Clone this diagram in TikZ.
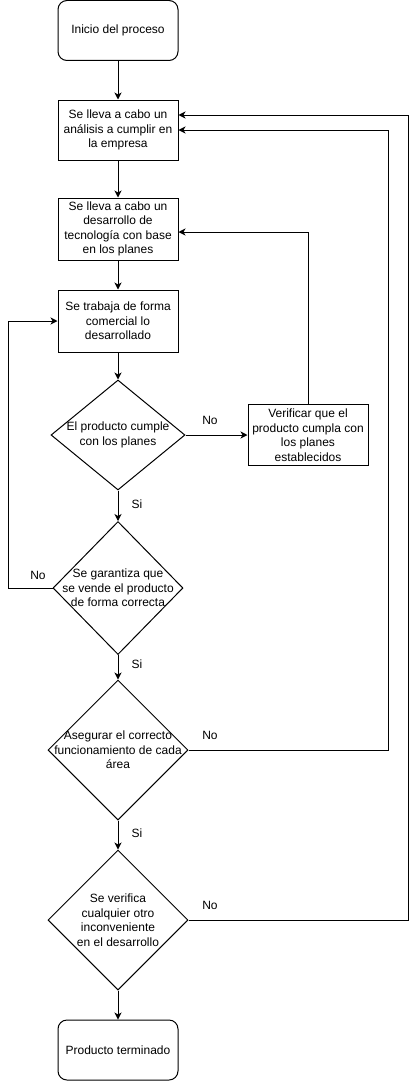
\documentclass[tikz,border=0pt]{standalone}
\usepackage{fontspec}
\setmainfont{Liberation Sans}
\usetikzlibrary{shapes.geometric,arrows.meta,calc}
\begin{document}
\begin{tikzpicture}[x=1pt,y=-1pt,
  font=\fontsize{12}{14.5}\selectfont,
  proc/.style={draw, line width=1pt, minimum width=120pt, minimum height=60pt, align=center, inner sep=0pt},
  term/.style={proc, rounded corners=9pt},
  dec/.style={draw, diamond, line width=1pt, inner sep=0pt},
  arr/.style={line width=1pt, -{Stealth[length=7pt,width=7pt,inset=2pt]}},
  lbl/.style={inner sep=0pt}]
\useasboundingbox (0,0) rectangle (416,1081);

\node[term] (start) at (118,30.5) {Inicio del proceso};
\node[proc] (b1) at (118,130) {Se lleva a cabo un\\análisis a cumplir en\\la empresa};
\node[proc, minimum height=62pt] (b2) at (118,229) {Se lleva a cabo un\\desarrollo de\\tecnología con base\\en los planes};
\node[proc, minimum height=62pt] (b3) at (118,321) {Se trabaja de forma\\comercial lo\\desarrollado};
\node[dec, minimum width=134pt, minimum height=110pt,
  label={[align=center]center:El producto cumple\\con los planes}] (d1) at (118,435) {};
\node[proc, minimum height=61pt] (v) at (308,435) {Verificar que el\\producto cumpla con\\los planes\\establecidos};
\node[dec, minimum width=130pt, minimum height=133pt,
  label={[align=center]center:Se garantiza que\\se vende el producto\\de forma correcta}] (d2) at (118,588) {};
\node[dec, minimum width=140pt, minimum height=140pt,
  label={[align=center]center:Asegurar el correcto\\funcionamiento de cada\\área}] (d3) at (118,750) {};
\node[dec, minimum width=140pt, minimum height=140pt,
  label={[align=center]center:Se verifica\\cualquier otro\\inconveniente\\en el desarrollo}] (d4) at (118,920) {};
\node[term] (end) at (118,1050) {Producto terminado};

\coordinate (c1) at ($(b1.east)+(0,-15)$);
\coordinate (c2) at ($(b2.east)+(0,3)$);

\draw[arr] (start) -- (b1);
\draw[arr] (b1) -- (b2);
\draw[arr] (b2) -- (b3);
\draw[arr] (b3) -- (d1);
\draw[arr] (d1.east) -- (v.west);
\draw[arr] (v.north) |- (c2);
\draw[arr] (d1.south) -- (d2.north);
\draw[arr] (d2.west) -- (8,588) |- (b3.west);
\draw[arr] (d2.south) -- (d3.north);
\draw[arr] (d3.east) -- (388,750) |- (b1.east);
\draw[arr] (d3.south) -- (d4.north);
\draw[arr] (d4.east) -- (408,920) |- (c1);
\draw[arr] (d4.south) -- (end.north);

\node[lbl] (n1) at (210,420) {No};
\node[lbl] (s1) at (137,504) {Si};
\node[lbl] (n2) at (38,575) {No};
\node[lbl] (s2) at (137,664) {Si};
\node[lbl] (n3) at (210,735) {No};
\node[lbl] (s3) at (137,833) {Si};
\node[lbl] (n4) at (210,905) {No};
\end{tikzpicture}
\end{document}
